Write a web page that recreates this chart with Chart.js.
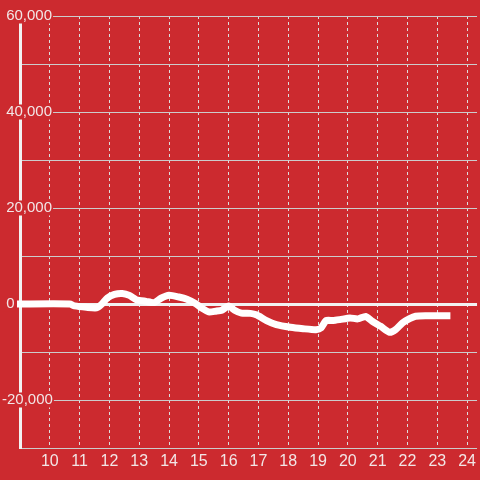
<!DOCTYPE html>
<html>
<head>
<meta charset="utf-8">
<script src="https://cdn.jsdelivr.net/npm/chart.js@4/dist/chart.umd.min.js"></script>
<style>
  html, body { margin: 0; padding: 0; background: #cc2a2f; }
  canvas { display: block; }
</style>
</head>
<body>
<canvas id="c" width="480" height="480"></canvas>
<script>
// Hours of the day (x) and values (y)
const hours = [8.9, 10.67, 10.83, 11.23, 11.57, 11.73, 11.93, 12.17, 12.43, 12.67, 12.9, 13.23, 13.5, 13.73, 14.0, 14.33, 14.6, 14.9, 15.1, 15.33, 15.57, 15.77, 16.0, 16.2, 16.43, 16.73, 16.93, 17.27, 17.6, 18.07, 18.5, 18.93, 19.1, 19.27, 19.5, 19.73, 20.07, 20.33, 20.6, 20.83, 21.1, 21.4, 21.6, 21.83, 22.07, 22.27, 22.6, 23.44];
const values = [0, 0, -400, -700, -800, -100, 1250, 2000, 2200, 1800, 900, 550, 300, 1200, 1800, 1450, 1000, 50, -850, -1650, -1500, -1300, -400, -1300, -1900, -1950, -2250, -3450, -4300, -4850, -5150, -5350, -5000, -3450, -3450, -3250, -2900, -3100, -2600, -3650, -4650, -5900, -5350, -3950, -3050, -2550, -2450, -2450];
const xTickValues = [10, 11, 12, 13, 14, 15, 16, 17, 18, 19, 20, 21, 22, 23, 24];
const yLabelledTicks = [60000, 40000, 20000, 0, -20000];

const BG = '#cc2a2f';
const points = hours.map((h, i) => ({ x: h, y: values[i] }));

new Chart(document.getElementById('c'), {
  type: 'line',
  data: {
    datasets: [{
      data: points,
      borderColor: '#ffffff',
      borderWidth: 7,
      pointRadius: 0,
      tension: 0.2,
      fill: false,
      clip: { left: 3, right: 0, top: 0, bottom: 0 }
    }]
  },
  options: {
    responsive: false,
    animation: false,
    layout: { padding: { left: 2, top: 16, right: 0, bottom: 0 } },
    plugins: { legend: { display: false }, tooltip: { enabled: false } },
    scales: {
      x: {
        type: 'linear',
        min: 9,
        max: 24.3333,
        afterBuildTicks: (s) => { s.ticks = xTickValues.map(v => ({ value: v })); },
        afterFit: (s) => { s.height = 32; },
        grid: { color: '#dddddd', lineWidth: 1, drawTicks: false },
        border: { display: false, dash: [3, 3] },
        ticks: {
          color: '#f2e6e6',
          font: { family: 'Liberation Sans, Arial, sans-serif', size: 16 },
          padding: 4,
          maxRotation: 0,
          autoSkip: false,
          callback: (v) => String(v)
        }
      },
      y: {
        min: -30000,
        max: 60000,
        afterFit: (s) => { s.width = 18; },
        grid: {
          drawTicks: false,
          color: (ctx) => ctx.tick && ctx.tick.value === 0 ? '#f2f2f2' : '#cccccc',
          lineWidth: (ctx) => ctx.tick && ctx.tick.value === 0 ? 3 : 1
        },
        border: { display: true, color: '#f2f2f2', width: 3 },
        ticks: {
          stepSize: 10000,
          mirror: true,
          crossAlign: 'near',
          padding: -18,
          color: '#f2e6e6',
          font: { family: 'Liberation Sans, Arial, sans-serif', size: 15, lineHeight: 1.0 },
          showLabelBackdrop: true,
          backdropPadding: { top: 0, bottom: 0, left: 0, right: 1 },
          backdropColor: (ctx) => (ctx.tick && yLabelledTicks.includes(ctx.tick.value)) ? BG : 'rgba(0,0,0,0)',
          callback: (v) => {
            if (!yLabelledTicks.includes(v)) return '';
            const s = Math.abs(v).toLocaleString('en-US');
            return (v < 0 ? '-' : ' ') + s;
          }
        }
      }
    }
  }
});
</script>
</body>
</html>
